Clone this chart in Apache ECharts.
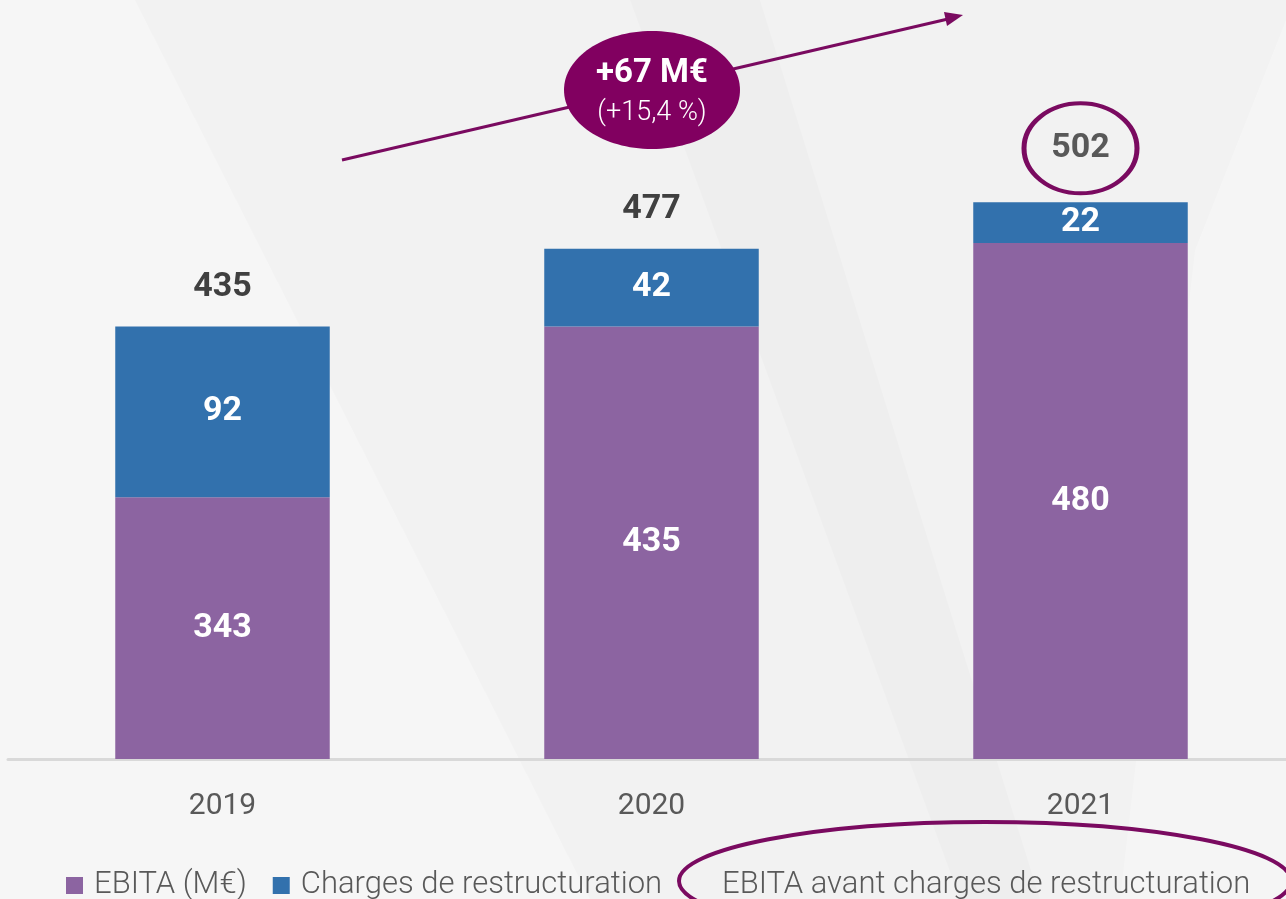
<!DOCTYPE html>
<html>
<head>
<meta charset="utf-8">
<script src="https://cdn.jsdelivr.net/npm/echarts@6/dist/echarts.min.js"></script>
<style>
  html, body { margin: 0; padding: 0; background: #f2f2f2; }
  #main { width: 1286px; height: 899px; }
</style>
</head>
<body>
<div id="main"></div>
<script>
// données
var years = ['2019', '2020', '2021']
var ebita = [343, 435, 480]
var charges = [92, 42, 22]
var totals = [435, 477, 502]

var FONT = 'Roboto, "Noto Sans", sans-serif'
var PURPLE = '#8c64a1'
var BLUE = '#3271ad'
var PLUM = '#7a0a60'

var chart = echarts.init(document.getElementById('main'))

var totalData = totals.map(function (v, i) {
  if (i === totals.length - 1) {
    // le total 2021 est entouré
    return {
      value: v,
      symbol: 'circle',
      symbolSize: [113, 90],
      symbolOffset: [0, -54],
      itemStyle: { color: 'rgba(0,0,0,0)', borderColor: PLUM, borderWidth: 4.5, opacity: 1 },
      label: { position: 'inside', color: '#595959' }
    }
  }
  return { value: v }
})

var legendText = { fontFamily: FONT, fontWeight: 300, fontSize: 31, color: '#595959' }

var option = {
  backgroundColor: '#f2f2f2',
  animation: false,
  grid: { left: 8, width: 1287, top: 0, bottom: 140, outerBoundsMode: 'none', containLabel: false },
  legend: [
    {
      left: 61,
      top: 865,
      itemWidth: 17,
      itemHeight: 17,
      itemGap: 26,
      textStyle: Object.assign({ padding: [0, 0, 0, 6] }, legendText),
      data: [
        { name: 'EBITA (M€)', icon: 'rect' },
        { name: 'Charges de restructuration', icon: 'rect' }
      ]
    },
    {
      left: 695,
      top: 865,
      itemWidth: 17,
      itemHeight: 17,
      textStyle: legendText,
      data: [{ name: 'EBITA avant charges de restructuration', icon: 'none' }]
    }
  ],
  xAxis: {
    type: 'category',
    data: years,
    axisLine: { lineStyle: { color: '#d9d9d9', width: 3 } },
    axisTick: { show: false },
    axisLabel: { fontFamily: FONT, fontSize: 30, color: '#595959', margin: 32 }
  },
  yAxis: {
    type: 'value',
    show: false,
    min: 202,
    max: 611,
    splitLine: { show: false }
  },
  series: [
    {
      name: 'EBITA (M€)',
      type: 'bar',
      stack: 'ebita',
      barWidth: '50%',
      data: ebita,
      itemStyle: { color: PURPLE },
      label: { show: true, position: 'inside', color: '#fff', fontFamily: FONT, fontWeight: 'bold', fontSize: 34 }
    },
    {
      name: 'Charges de restructuration',
      type: 'bar',
      stack: 'ebita',
      barWidth: '50%',
      data: charges,
      itemStyle: { color: BLUE },
      label: { show: true, position: 'inside', color: '#fff', fontFamily: FONT, fontWeight: 'bold', fontSize: 34 }
    },
    {
      name: 'EBITA avant charges de restructuration',
      type: 'scatter',
      symbolSize: 0,
      data: totalData,
      z: 5,
      itemStyle: { opacity: 1 },
      label: {
        show: true,
        position: 'top',
        distance: 22,
        color: '#404040',
        fontFamily: FONT,
        fontWeight: 'bold',
        fontSize: 34
      }
    }
  ],
  graphic: [
    // fond : bandes diagonales discrètes
    { type: 'polygon', z: 0, silent: true, shape: { points: [[0, 0], [135, 0], [590, 899], [0, 899]] }, style: { fill: 'rgba(255,255,255,0.3)' } },
    { type: 'polygon', z: 0, silent: true, shape: { points: [[630, 0], [760, 0], [1040, 899], [960, 899]] }, style: { fill: 'rgba(0,0,0,0.015)' } },
    { type: 'polygon', z: 0, silent: true, shape: { points: [[1286, 20], [1286, 899], [1120, 899], [1195, 250]] }, style: { fill: 'rgba(255,255,255,0.25)' } },
    // flèche de progression
    { type: 'line', z: 10, silent: true, shape: { x1: 342, y1: 160, x2: 948, y2: 19 }, style: { stroke: PLUM, lineWidth: 3 } },
    { type: 'polygon', z: 10, silent: true, shape: { points: [[963, 15], [947, 26], [944, 12]] }, style: { fill: PLUM } },
    // bulle +67 M€
    { type: 'ellipse', z: 11, silent: true, shape: { cx: 652, cy: 90, rx: 88, ry: 59 }, style: { fill: '#810060' } },
    { type: 'text', z: 12, silent: true, style: { x: 652, y: 74, text: '+67 M€', fill: '#fff', font: 'bold 33px ' + FONT, textAlign: 'center', textVerticalAlign: 'middle' } },
    { type: 'text', z: 12, silent: true, style: { x: 652, y: 113, text: '(+15,4 %)', fill: '#fff', font: '300 27px ' + FONT, textAlign: 'center', textVerticalAlign: 'middle' } },
    // ellipse autour de la légende
    { type: 'ellipse', z: 12, silent: true, shape: { cx: 985, cy: 881, rx: 306, ry: 59 }, style: { fill: 'none', stroke: PLUM, lineWidth: 4 } }
  ]
}

chart.setOption(option)
</script>
</body>
</html>
